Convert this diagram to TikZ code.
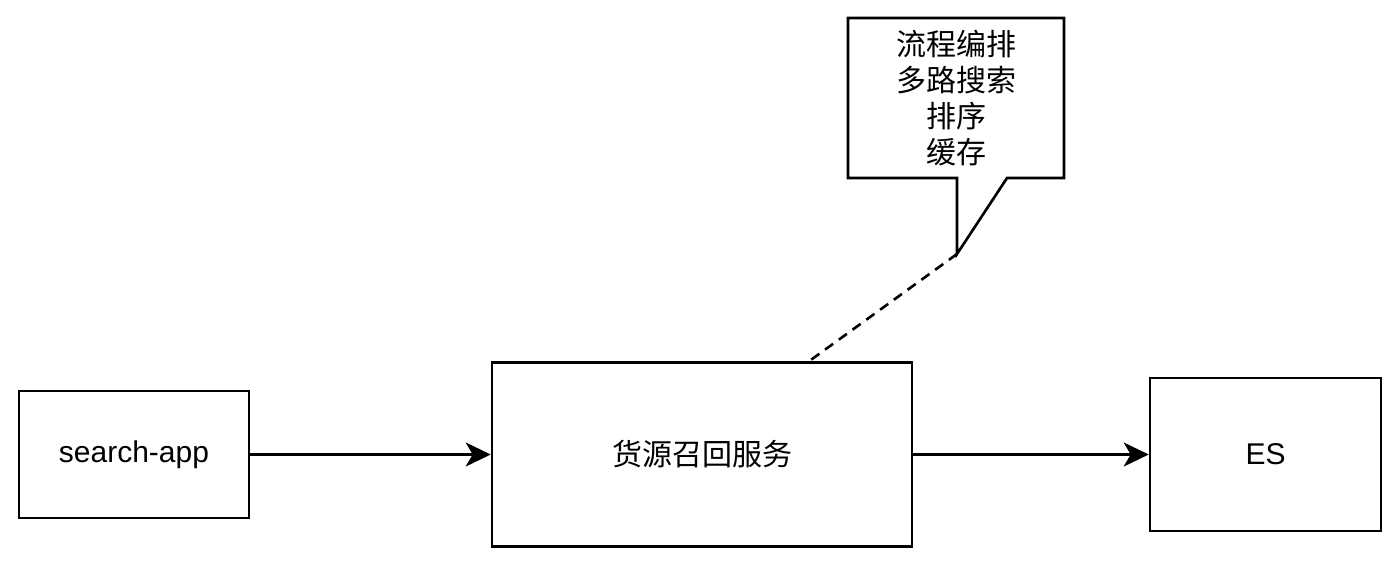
\documentclass[tikz,border=0pt]{standalone}
\usepackage{fontspec}
\setmainfont{Liberation Sans}
\newfontfamily\cjk{Noto Sans CJK SC}
\usetikzlibrary{arrows.meta}
\begin{document}
\begin{tikzpicture}[x=1pt,y=-1pt,
  box/.style={draw,line width=2.6pt,inner sep=0pt,font=\fontsize{30}{36}\selectfont},
  conn/.style={line width=2.6pt,-{Stealth[length=25pt,width=24pt,inset=7pt]}}]
\useasboundingbox (0,0) rectangle (1400,572);
\node[box,minimum width=230pt,minimum height=127pt] (app) at (134,454.5) {search-app};
\node[box,minimum width=420pt,minimum height=184pt] (svc) at (702,454.5) {\cjk 货源召回服务};
\node[box,minimum width=231pt,minimum height=153pt] (es) at (1265.5,454.5) {ES};
\draw[conn] (app.east) -- (svc.west);
\draw[conn] (svc.east) -- (es.west);
% callout
\coordinate (tip) at (957,254);
\draw[line width=2.6pt,line join=miter] (957,178) -- (848,178) -- (848,18) -- (1064,18) -- (1064,178) -- (1007,178) -- (tip) -- cycle;
\node[align=center,font=\cjk\fontsize{30}{36}\selectfont] (note) at (956,98) {流程编排\\多路搜索\\排序\\缓存};
\coordinate (ds) at (808,362);
\draw[line width=2.6pt,dash pattern=on 10pt off 7pt] (tip) -- (ds);
\end{tikzpicture}
\end{document}
